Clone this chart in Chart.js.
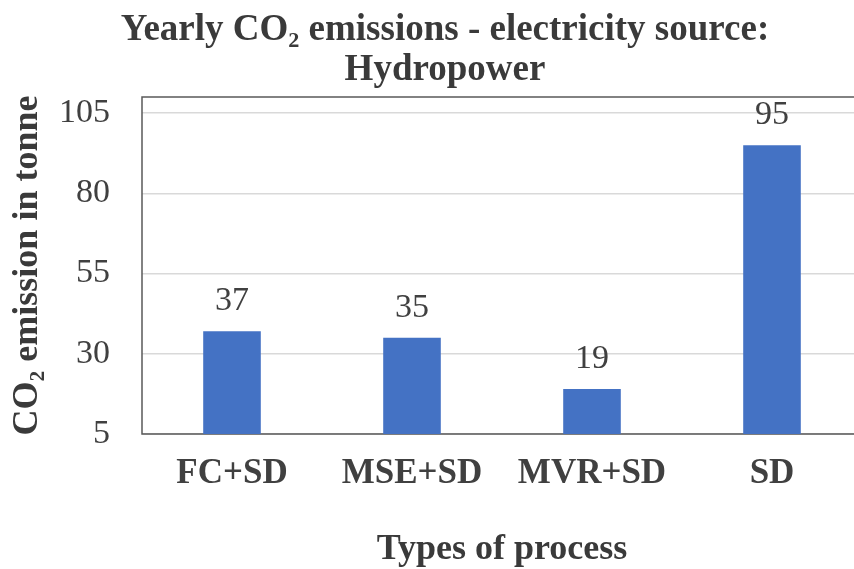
<!DOCTYPE html>
<html>
<head>
<meta charset="utf-8">
<script src="https://cdn.jsdelivr.net/npm/chart.js@4"></script>
<style>
  html, body { margin: 0; padding: 0; background: #fff; overflow: hidden; }
  canvas { display: block; }
</style>
</head>
<body>
<canvas id="co2Chart" width="870" height="569"></canvas>
<script>
const processTypes = ['FC+SD', 'MSE+SD', 'MVR+SD', 'SD'];
const emissions = [37, 35, 19, 95];
const yTicks = [5, 30, 55, 80, 105];

const textColor = '#404040';
const serif = "'Liberation Serif', 'Times New Roman', serif";

// plot area frame (Excel style box)
const frameBox = {
    id: 'frameBox',
    beforeDatasetsDraw(chart) {
        const { ctx, chartArea } = chart;
        ctx.save();
        ctx.strokeStyle = '#595959';
        ctx.lineWidth = 1.5;
        ctx.strokeRect(chartArea.left, chartArea.top, chartArea.right - chartArea.left, chartArea.bottom - chartArea.top);
        ctx.restore();
    }
};

// value labels above the bars
const valueLabels = {
    id: 'valueLabels',
    afterDatasetsDraw(chart) {
        const { ctx } = chart;
        const meta = chart.getDatasetMeta(0);
        ctx.save();
        ctx.font = '34px ' + serif;
        ctx.fillStyle = textColor;
        ctx.textAlign = 'center';
        ctx.textBaseline = 'middle';
        meta.data.forEach((bar, i) => {
            ctx.fillText(String(emissions[i]), bar.x, bar.y - 30);
        });
        ctx.restore();
    }
};

const ctx = document.getElementById('co2Chart').getContext('2d');
const co2Chart = new Chart(ctx, {
    type: 'bar',
    data: {
        labels: processTypes,
        datasets: [{
            label: 'CO2 emission',
            data: emissions,
            backgroundColor: '#4472C4',
            borderWidth: 0,
            categoryPercentage: 0.32,
            barPercentage: 1
        }]
    },
    options: {
        responsive: false,
        animation: false,
        layout: { padding: { left: 28, right: 8, top: 0, bottom: 1 } },
        plugins: {
            legend: { display: false },
            tooltip: { enabled: false },
            title: {
                display: true,
                text: ['Yearly CO\u2082 emissions - electricity source:', 'Hydropower'],
                color: '#3a3a3a',
                font: { family: serif, size: 37, weight: 'bold', lineHeight: 40 / 37 },
                padding: { top: 10, bottom: 7 }
            }
        },
        scales: {
            x: {
                grid: { display: false, drawTicks: false },
                border: { display: false },
                ticks: {
                    color: textColor,
                    padding: 19,
                    font: { family: serif, size: 35, weight: 'bold', lineHeight: 1.2 }
                },
                title: {
                    display: true,
                    text: 'Types of process',
                    color: '#3a3a3a',
                    font: { family: serif, size: 36, weight: 'bold', lineHeight: 1 },
                    padding: { top: 18, bottom: 0 }
                }
            },
            y: {
                min: 5,
                max: 110,
                afterBuildTicks(scale) {
                    scale.ticks = yTicks.map(v => ({ value: v }));
                },
                afterFit(scale) {
                    scale.width = 114;
                },
                grid: { color: '#d9d9d9', lineWidth: 1.5, drawTicks: false },
                border: { display: false },
                ticks: {
                    color: textColor,
                    padding: 32,
                    font: { family: serif, size: 34 }
                },
                title: {
                    display: true,
                    text: 'CO\u2082 emission in tonne',
                    color: '#3a3a3a',
                    font: { family: serif, size: 36, weight: 'bold', lineHeight: 1 },
                    padding: { top: -18, bottom: 0 }
                }
            }
        }
    },
    plugins: [frameBox, valueLabels]
});
</script>
</body>
</html>
